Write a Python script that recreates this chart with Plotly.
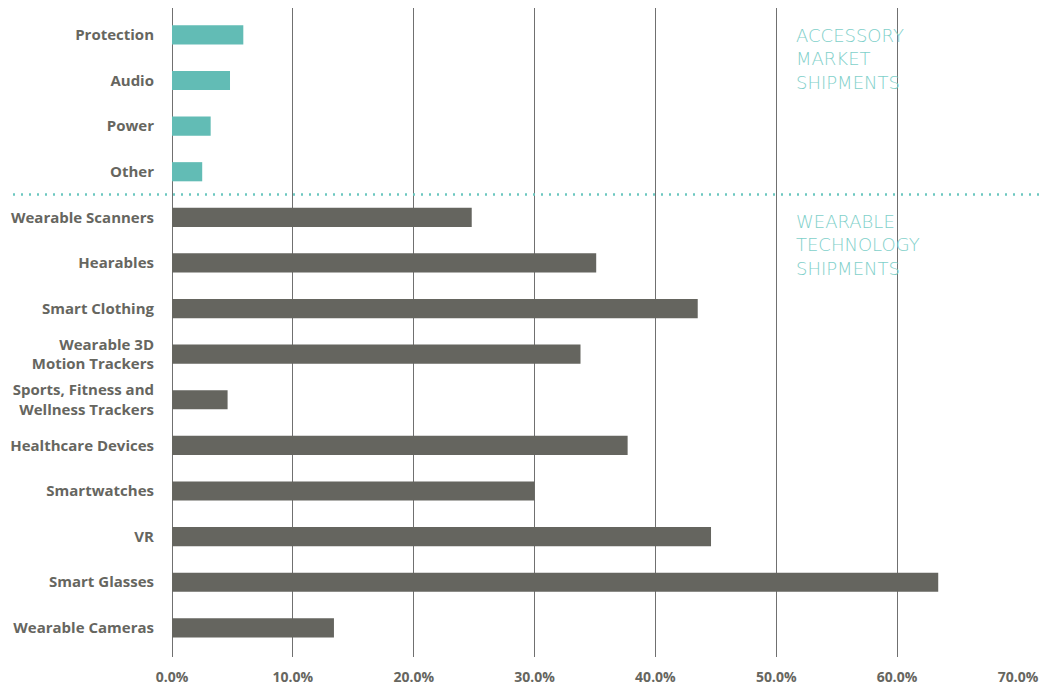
import plotly.graph_objects as go

categories = ["Protection", "Audio", "Power", "Other",
              "Wearable Scanners", "Hearables", "Smart Clothing",
              "Wearable 3D<br>Motion Trackers", "Sports, Fitness and<br>Wellness Trackers",
              "Healthcare Devices", "Smartwatches", "VR", "Smart Glasses", "Wearable Cameras"]
values = [5.9, 4.8, 3.2, 2.5,
          24.8, 35.1, 43.5, 33.8, 4.6, 37.7, 30.0, 44.6, 63.4, 13.4]
groups = ["acc"] * 4 + ["wear"] * 10
x_ticks = [0, 10, 20, 30, 40, 50, 60, 70]
x_tick_labels = ["0.0%", "10.0%", "20.0%", "30.0%", "40.0%", "50.0%", "60.0%", "70.0%"]

TEAL = "#62bcb5"
GRAY = "#65655f"
colors = [TEAL if g == "acc" else GRAY for g in groups]

fig = go.Figure()
fig.add_trace(go.Bar(
    y=categories, x=values, orientation="h",
    marker=dict(color=colors, line=dict(width=0)),
    width=0.42, hoverinfo="x+y",
))

OFF = 8  # page body offset
W, H = 1049 - OFF, 687 - OFF
ml, mt = 172 - OFF, 8 - OFF
mr = W - (1018 - OFF)
mb = H - (657 - OFF)
pw = W - ml - mr
ph = H - mt - mb

fig.update_layout(
    width=W, height=H,
    margin=dict(l=ml, r=mr, t=mt, b=mb),
    paper_bgcolor="white", plot_bgcolor="white",
    showlegend=False,
    font=dict(family="Open Sans", color="#66665f"),
    xaxis=dict(
        range=[0, 70], tickvals=x_ticks, ticktext=x_tick_labels,
        showgrid=True, gridcolor="#707070", gridwidth=1,
        zeroline=True, zerolinecolor="#707070", zerolinewidth=1,
        showline=False, ticks="", ticklabelstandoff=10,
        tickfont=dict(family="Open Sans", size=14, color="#66665f", weight="bold"),
    ),
    yaxis=dict(
        type="category", categoryorder="array", categoryarray=categories,
        range=[13.64, -0.59],
        showgrid=False, zeroline=False, showline=False, ticks="",
        ticklabelstandoff=17,
        tickfont=dict(family="Open Sans", size=15, color="#66665f", weight="bold"),
    ),
)

# dotted separator between groups
fig.add_shape(type="line", xref="paper", yref="y",
              x0=(5 - 172) / pw, x1=(1040 - 172) / pw, y0=3.5, y1=3.5,
              line=dict(color="#6cc7c0", width=2.5, dash="2px,6px"))

ANN_FONT = dict(family="DejaVu Sans", size=18, color="#7fd0ca", weight=200)
fig.add_annotation(xref="paper", yref="paper", x=(794 - 172) / pw, y=1 - (23 - 8) / ph,
                   xanchor="left", yanchor="top", align="left", showarrow=False,
                   text="ACCESSORY<br>MARKET<br>SHIPMENTS", font=ANN_FONT)
fig.add_annotation(xref="paper", yref="paper", x=(794 - 172) / pw, y=1 - (209 - 8) / ph,
                   xanchor="left", yanchor="top", align="left", showarrow=False,
                   text="WEARABLE<br>TECHNOLOGY<br>SHIPMENTS", font=ANN_FONT)

fig.write_html("out.html")
